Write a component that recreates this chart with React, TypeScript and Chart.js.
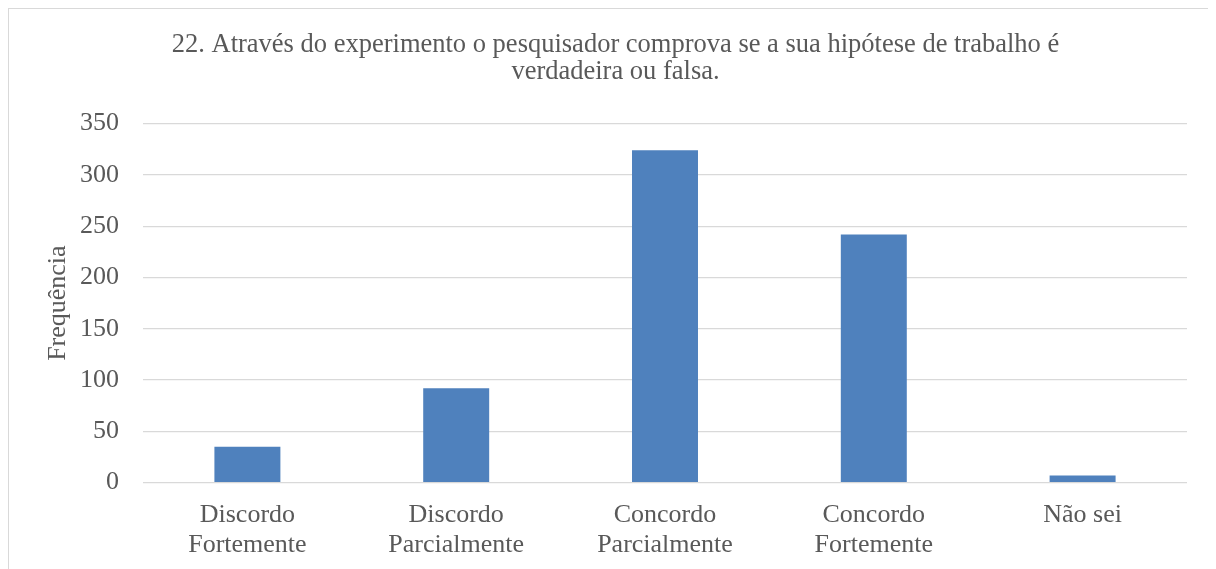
import React, { useEffect, useRef } from "react";
import { Chart, registerables } from "chart.js";

Chart.register(...registerables);

const categories: string[][] = [
  ["Discordo", "Fortemente"],
  ["Discordo", "Parcialmente"],
  ["Concordo", "Parcialmente"],
  ["Concordo", "Fortemente"],
  ["Não sei"],
];
const frequencies: number[] = [35, 92, 324, 242, 7];
const titleLines: string[] = [
  "22. Através do experimento o pesquisador comprova se a sua hipótese de trabalho é",
  "verdadeira ou falsa.",
];
const yAxisLabel = "Frequência";
const yMax = 350;
const yStep = 50;

const SERIF = "'Liberation Serif', 'Times New Roman', serif";
const TEXT = "#595959";
const GRID = "#d9d9d9";
const BAR = "#4f81bd";

export default function App() {
  const canvasRef = useRef<HTMLCanvasElement | null>(null);

  useEffect(() => {
    const canvas = canvasRef.current;
    if (!canvas) return;
    const chart = new Chart(canvas, {
      type: "bar",
      data: {
        labels: categories,
        datasets: [
          {
            data: frequencies,
            backgroundColor: BAR,
            borderWidth: 0,
            barPercentage: 1,
            categoryPercentage: 0.316,
          },
        ],
      },
      options: {
        animation: false,
        responsive: false,
        devicePixelRatio: 1,
        layout: { padding: { left: 35, right: 29, top: 22, bottom: 8 } },
        plugins: {
          legend: { display: false },
          tooltip: { enabled: false },
          title: {
            display: true,
            text: titleLines,
            color: TEXT,
            font: { family: SERIF, size: 26.5, weight: "normal", lineHeight: 1.03 },
            padding: { top: 0, bottom: 38 },
          },
        },
        scales: {
          x: {
            grid: { display: false },
            border: { display: false },
            ticks: {
              color: TEXT,
              font: { family: SERIF, size: 26, lineHeight: 1.18 },
              maxRotation: 0,
              autoSkip: false,
              padding: 9,
            },
            afterFit: (scale: any) => {
              scale.height = scale.height - 9;
            },
          },
          y: {
            min: 0,
            max: yMax,
            grid: { color: GRID, lineWidth: 1.3, drawTicks: false },
            border: { display: false },
            ticks: {
              stepSize: yStep,
              color: TEXT,
              font: { family: SERIF, size: 26 },
              padding: 24,
            },
            title: {
              display: true,
              text: yAxisLabel,
              color: TEXT,
              font: { family: SERIF, size: 26, lineHeight: 1.1 },
              padding: { top: 0, bottom: 0 },
            },
            afterFit: (scale: any) => {
              scale.width = 99;
            },
          },
        },
      },
    });
    return () => chart.destroy();
  }, []);

  return (
    <div
      style={{
        width: 1208,
        height: 561,
        boxSizing: "border-box",
        borderTop: `1px solid ${GRID}`,
        borderLeft: `1px solid ${GRID}`,
        background: "#fff",
      }}
    >
      <canvas ref={canvasRef} width={1207} height={560} style={{ display: "block" }} />
    </div>
  );
}
